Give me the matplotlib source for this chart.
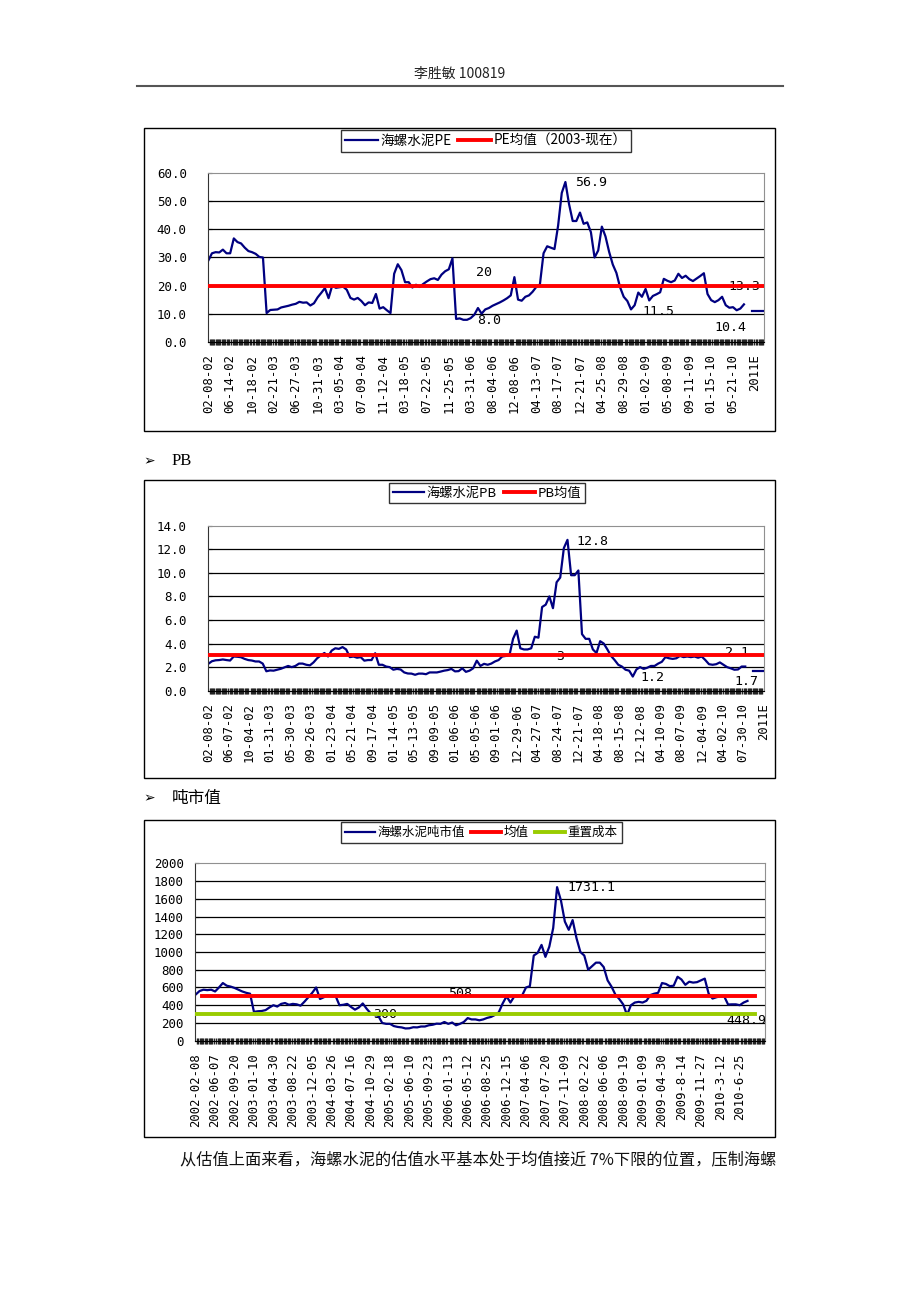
import numpy as np
import matplotlib.pyplot as plt
from matplotlib.patches import Rectangle
from matplotlib.lines import Line2D
from matplotlib.ticker import FormatStrFormatter

plt.rcParams['font.family'] = ['Noto Sans CJK SC', 'DejaVu Sans']

# ---------------- data ----------------
# PE, one reading every 3 weeks from 2002-02-08
pe_values = [28.9, 31.5, 31.9, 31.8, 32.8, 31.5, 31.5, 36.8, 35.5, 35.0, 33.5, 32.3, 31.9, 31.3, 30.2, 30.0,
             10.2, 11.3, 11.4, 11.5, 12.2, 12.5, 12.8, 13.2, 13.5, 14.2, 13.9, 14.0, 12.9, 13.7, 15.8, 17.4,
             19.1, 15.5, 20.0, 19.2, 19.4, 19.6, 18.5, 15.6, 15.0, 15.6, 14.5, 13.0, 14.0, 13.8, 17.0, 11.8,
             12.3, 11.2, 10.2, 24.2, 27.6, 25.5, 21.2, 21.2, 19.3, 20.3, 19.5, 20.6, 21.5, 22.3, 22.6, 22.0,
             23.9, 25.1, 25.8, 29.7, 8.1, 8.3, 7.8, 7.8, 8.4, 9.6, 12.0, 10.0, 11.5, 12.0, 12.8, 13.4,
             14.0, 14.7, 15.5, 16.5, 23.0, 15.0, 14.6, 16.0, 16.5, 17.8, 19.5, 20.4, 31.5, 34.0, 33.5, 33.0,
             41.4, 53.0, 56.9, 49.0, 43.0, 43.0, 46.0, 42.0, 42.5, 39.0, 30.0, 32.5, 41.0, 37.5, 32.0, 27.5,
             24.5, 19.4, 16.0, 14.5, 11.5, 13.0, 17.5, 16.0, 18.8, 14.7, 16.3, 16.9, 17.6, 22.4, 21.7, 21.2,
             21.8, 24.2, 22.7, 23.5, 22.3, 21.6, 22.5, 23.4, 24.4, 17.0, 14.8, 14.1, 14.8, 16.0, 13.0, 12.1,
             12.3, 11.2, 11.8, 13.3]
pe_est = [10.8, 10.8, 10.8, 10.8]   # 2011E
pe_est_start = 448
pe_mean = 20
pe_ticks = ['02-08-02', '06-14-02', '10-18-02', '02-21-03', '06-27-03', '10-31-03', '03-05-04',
            '07-09-04', '11-12-04', '03-18-05', '07-22-05', '11-25-05', '03-31-06', '08-04-06',
            '12-08-06', '04-13-07', '08-17-07', '12-21-07', '04-25-08', '08-29-08', '01-02-09',
            '05-08-09', '09-11-09', '01-15-10', '05-21-10', '2011E']
pe_notes = [('56.9', 302, 56.9), ('20', 220, 24.5), ('8.0', 221, 7.4), ('11.5', 357, 10.9),
            ('13.3', 428, 19.5), ('10.4', 417, 5.2)]

# PB
pb_values = [2.28, 2.5, 2.58, 2.6, 2.65, 2.6, 2.56, 2.9, 2.88, 2.84, 2.7, 2.6, 2.56, 2.48, 2.48, 2.3,
             1.65, 1.72, 1.7, 1.78, 1.86, 1.98, 2.1, 2.0, 2.1, 2.3, 2.3, 2.2, 2.15, 2.4, 2.75, 3.0,
             3.2, 2.9, 3.4, 3.6, 3.55, 3.7, 3.5, 2.85, 2.9, 2.8, 2.85, 2.55, 2.6, 2.6, 3.18, 2.2,
             2.2, 2.05, 2.0, 1.78, 1.85, 1.8, 1.55, 1.46, 1.45, 1.35, 1.45, 1.45, 1.4, 1.55, 1.55, 1.55,
             1.62, 1.7, 1.75, 1.85, 1.64, 1.66, 1.9, 1.6, 1.7, 1.9, 2.55, 2.1, 2.28, 2.2, 2.3, 2.48,
             2.6, 2.9, 2.95, 3.0, 4.4, 5.1, 3.6, 3.5, 3.5, 3.6, 4.58, 4.5, 7.1, 7.3, 8.0, 7.0,
             9.2, 9.6, 12.1, 12.8, 9.8, 9.8, 10.2, 4.8, 4.4, 4.4, 3.5, 3.2, 4.2, 4.0, 3.5, 2.95,
             2.6, 2.2, 2.05, 1.78, 1.7, 1.2, 1.8, 2.0, 1.85, 1.95, 2.1, 2.1, 2.3, 2.45, 2.85, 2.75,
             2.7, 2.75, 2.95, 2.85, 2.9, 2.85, 2.9, 2.8, 2.9, 2.6, 2.25, 2.2, 2.25, 2.4, 2.2, 2.0,
             1.9, 1.78, 1.8, 2.05, 2.05]
pb_est = [1.65, 1.65, 1.65, 1.65]
pb_est_start = 450
pb_mean = 3
pb_ticks = ['02-08-02', '06-07-02', '10-04-02', '01-31-03', '05-30-03', '09-26-03', '01-23-04',
            '05-21-04', '09-17-04', '01-14-05', '05-13-05', '09-09-05', '01-06-06', '05-05-06',
            '09-01-06', '12-29-06', '04-27-07', '08-24-07', '12-21-07', '04-18-08', '08-15-08',
            '12-12-08', '04-10-09', '08-07-09', '12-04-09', '04-02-10', '07-30-10', '2011E']
pb_notes = [('12.8', 304, 12.7), ('3', 288, 2.94), ('2.1', 427, 3.2), ('1.2', 357, 1.16),
            ('1.7', 435, 0.74)]

# 吨市值
ton_values = [520, 560, 575, 570, 575, 555, 600, 650, 620, 610, 595, 575, 555, 540, 530, 325,
              332, 335, 345, 375, 400, 385, 415, 425, 405, 415, 410, 395, 440, 490, 540, 600,
              470, 490, 515, 500, 505, 400, 405, 415, 380, 350, 375, 420, 360, 310, 290, 280,
              200, 190, 190, 165, 155, 150, 138, 140, 152, 150, 160, 160, 174, 180, 192, 190,
              211, 190, 205, 174, 190, 211, 255, 240, 240, 230, 240, 257, 268, 290, 320, 420,
              500, 430, 500, 500, 510, 600, 615, 960, 990, 1080, 945, 1060, 1270, 1731.1, 1580, 1343,
              1250, 1360, 1155, 1000, 960, 800, 840, 880, 880, 830, 680, 610, 520, 470, 410, 290,
              400, 430, 438, 430, 450, 515, 530, 540, 650, 640, 615, 620, 721, 690, 630, 665,
              655, 660, 680, 700, 530, 475, 490, 500, 500, 408, 410, 410, 400, 430, 448.9]
ton_mean = 508
ton_cost = 300
mean_span = (5, 432)
cost_span = (0, 432)
ton_ticks = ['2002-02-08', '2002-06-07', '2002-09-20', '2003-01-10', '2003-04-30', '2003-08-22',
             '2003-12-05', '2004-03-26', '2004-07-16', '2004-10-29', '2005-02-18', '2005-06-10',
             '2005-09-23', '2006-01-13', '2006-05-12', '2006-08-25', '2006-12-15', '2007-04-06',
             '2007-07-20', '2007-11-09', '2008-02-22', '2008-06-06', '2008-09-19', '2009-01-09',
             '2009-04-30', '2009-8-14', '2009-11-27', '2010-3-12', '2010-6-25']
ton_notes = [('1731.1', 287, 1722), ('508', 195, 532), ('300', 137, 295), ('448.9', 410, 227)]

STEP = 3
BLUE = '#000080'
RED = '#ff0000'
GREEN = '#99cc00'
MONO = 'DejaVu Sans Mono'

W, H = 920, 1302
fig = plt.figure(figsize=(9.2, 13.02), dpi=100)


def fx(px):
    return px / W


def fy(py):
    return 1 - py / H


def make_axes(left, top, right, bottom):
    return fig.add_axes([fx(left), fy(bottom), fx(right) - fx(left), (bottom - top) / H])


def frame(left, top, right, bottom):
    fig.add_artist(Rectangle((fx(left), fy(bottom)), fx(right) - fx(left), (bottom - top) / H,
                             transform=fig.transFigure, fill=False, edgecolor='black', lw=1.0))


def style(ax, n_cat, every, labels, ymax, ystep, fmt, ypad, xsize):
    ax.set_xlim(-0.5, n_cat - 0.5)
    ax.set_ylim(0, ymax)
    yt = np.arange(0, ymax + ystep / 2, ystep)
    ax.set_yticks(yt)
    ax.yaxis.set_major_formatter(FormatStrFormatter(fmt))
    for v in yt[1:-1]:
        ax.axhline(v, color='black', lw=0.9, zorder=1)
    ax.set_xticks(np.arange(len(labels)) * every)
    ax.set_xticklabels(labels, rotation=90, family=MONO, fontsize=xsize)
    ax.set_xticks(np.arange(n_cat), minor=True)
    ax.tick_params(axis='x', which='major', length=0, pad=9)
    ax.tick_params(axis='x', which='minor', length=5, width=1.0, direction='inout', color='#222222')
    ax.tick_params(axis='y', length=3, direction='in', pad=ypad, labelsize=9)
    for lab in ax.get_yticklabels():
        lab.set_family(MONO)
    ax.spines['left'].set_color('#333333')
    ax.spines['bottom'].set_color('black')
    ax.spines['top'].set_color('#909090')
    ax.spines['right'].set_color('#909090')


def legend(ax, handles, cx, cy, size):
    leg = ax.legend(handles=handles, loc='center', bbox_to_anchor=(fx(cx), fy(cy)),
                    bbox_transform=fig.transFigure, ncol=len(handles), fontsize=size,
                    frameon=True, fancybox=False, edgecolor='black', handlelength=2.4,
                    handletextpad=0.2, columnspacing=0.5, borderpad=0.3, borderaxespad=0)
    leg.get_frame().set_linewidth(1.0)


def notes(ax, items):
    for txt, x, y in items:
        ax.text(x, y, txt, family=MONO, fontsize=9.5, ha='left', va='center', zorder=2)


# ---------------- header ----------------
fig.text(fx(460), fy(74), '李胜敏 100819', ha='center', va='center', fontsize=10, color='#222222')
fig.add_artist(Line2D([fx(137), fx(783)], [fy(86), fy(86)], transform=fig.transFigure,
                      color='#555555', lw=1.5))

# ---------------- PE chart ----------------
frame(144, 128, 775, 431)
ax1 = make_axes(207.7, 173.3, 764, 341.7)
x = np.arange(len(pe_values)) * STEP
l1, = ax1.plot(x, pe_values, color=BLUE, lw=1.6, zorder=2.5, label='海螺水泥PE')
ax1.plot(pe_est_start + np.arange(len(pe_est)) * STEP, pe_est, color=BLUE, lw=1.6, zorder=2.5)
l2 = ax1.axhline(pe_mean, color=RED, lw=2.8, zorder=3, label='PE均值（2003-现在）')
style(ax1, 458, 18, pe_ticks, 60, 10, '%.1f', 15, 8.8)
notes(ax1, pe_notes)
legend(ax1, [l1, l2], 486, 141, 9.8)

# ---------------- PB chart ----------------
fig.text(fx(143), fy(461), '➢', fontsize=10, family='DejaVu Sans', va='center')
fig.text(fx(172), fy(461), 'PB', fontsize=12, family='Liberation Serif', va='center')
frame(144, 480, 775, 778)
ax2 = make_axes(207.7, 525.7, 764, 690.7)
x = np.arange(len(pb_values)) * STEP
l1, = ax2.plot(x, pb_values, color=BLUE, lw=1.6, zorder=2.5, label='海螺水泥PB')
ax2.plot(pb_est_start + np.arange(len(pb_est)) * STEP, pb_est, color=BLUE, lw=1.6, zorder=2.5)
l2 = ax2.axhline(pb_mean, color=RED, lw=2.8, zorder=3, label='PB均值')
style(ax2, 460, 17, pb_ticks, 14, 2, '%.1f', 15, 8.8)
notes(ax2, pb_notes)
legend(ax2, [l1, l2], 487, 493, 9.5)

# ---------------- 吨市值 chart ----------------
fig.text(fx(143), fy(798), '➢', fontsize=10, family='DejaVu Sans', va='center')
fig.text(fx(172), fy(798), '吨市值', fontsize=12, va='center')
frame(144, 820, 775, 1137)
ax3 = make_axes(195, 863.3, 765, 1040.7)
x = np.arange(len(ton_values)) * STEP
l1, = ax3.plot(x, ton_values, color=BLUE, lw=1.6, zorder=2.5, label='海螺水泥吨市值')
l2, = ax3.plot(mean_span, [ton_mean, ton_mean], color=RED, lw=2.8, zorder=3, label='均值')
l3, = ax3.plot(cost_span, [ton_cost, ton_cost], color=GREEN, lw=2.8, zorder=3, label='重置成本')
style(ax3, 440, 15, ton_ticks, 2000, 200, '%d', 8, 8.8)
notes(ax3, ton_notes)
legend(ax3, [l1, l2, l3], 481.5, 832.5, 9)

# ---------------- body text ----------------
fig.text(fx(180), fy(1160), '从估值上面来看，海螺水泥的估值水平基本处于均值接近 7%下限的位置，压制海螺',
         fontsize=11.7, va='center', color='#111111')

fig.savefig('out.png', dpi=100)
